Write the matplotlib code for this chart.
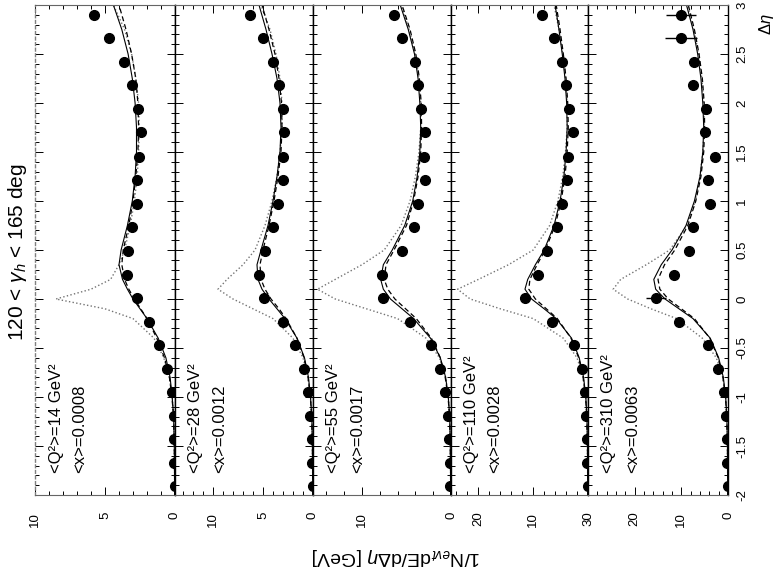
import matplotlib
matplotlib.use("Agg")
import matplotlib.pyplot as plt
from matplotlib.ticker import MultipleLocator, FixedLocator, FormatStrFormatter

plt.rcParams['font.family'] = ['Liberation Sans', 'DejaVu Sans']
plt.rcParams['mathtext.fontset'] = 'custom'
plt.rcParams['mathtext.rm'] = 'Liberation Sans'
plt.rcParams['mathtext.it'] = 'Liberation Sans:italic'
plt.rcParams['axes.unicode_minus'] = False

# bins in delta-eta for the measured points
eta_pts = [2.90, 2.66, 2.42, 2.18, 1.94, 1.70, 1.45, 1.21, 0.97, 0.73, 0.49,
           0.25, 0.01, -0.23, -0.47, -0.71, -0.95, -1.19, -1.43, -1.67, -1.91]

# energy flow per Q2 bin
flow_q14 = [5.77, 4.72, 3.66, 3.10, 2.61, 2.46, 2.54, 2.68, 2.75, 3.10, 3.38,
            3.45, 2.68, 1.83, 1.13, 0.56, 0.21, 0.10, 0.06, 0.04, 0.03]
flow_q28 = [6.3, 5.0, 4.0, 3.4, 3.0, 2.9, 3.0, 3.0, 3.5, 4.0, 4.8,
            5.4, 4.9, 3.0, 1.8, 0.9, 0.5, 0.3, 0.15, 0.08, 0.05]
flow_q55 = [6.4, 5.5, 4.0, 3.7, 3.4, 2.9, 3.0, 2.9, 3.7, 4.2, 5.5,
            7.8, 7.6, 4.6, 2.2, 1.2, 0.7, 0.35, 0.2, 0.1, 0.06]
flow_q110 = [8.4, 6.2, 4.7, 4.0, 3.5, 2.7, 3.6, 3.8, 4.7, 5.6, 7.4,
             9.1, 11.5, 6.5, 2.5, 1.1, 0.5, 0.3, 0.2, 0.1, 0.08]
flow_q310 = [10.0, 10.0, 7.2, 7.4, 4.8, 5.0, 2.8, 4.3, 3.9, 7.4, 8.3,
             11.5, 15.4, 10.4, 4.3, 2.2, 0.9, 0.5, 0.3, 0.2, 0.1]

err_q14 = [0.15, 0.12, 0.12, 0.10, 0.10, 0.10, 0.10, 0.10, 0.10, 0.10, 0.12,
           0.12, 0.12, 0.10, 0.08, 0.06, 0.05, 0.04, 0.03, 0.03, 0.03]
err_q28 = [0.25, 0.2, 0.15, 0.15, 0.12, 0.12, 0.12, 0.12, 0.15, 0.15, 0.2,
           0.25, 0.25, 0.15, 0.1, 0.08, 0.06, 0.05, 0.04, 0.03, 0.03]
err_q55 = [0.3, 0.25, 0.2, 0.2, 0.2, 0.2, 0.2, 0.2, 0.2, 0.25, 0.3,
           0.4, 0.4, 0.3, 0.15, 0.1, 0.08, 0.06, 0.05, 0.04, 0.04]
err_q110 = [0.6, 0.5, 0.4, 0.4, 0.4, 0.4, 0.4, 0.4, 0.4, 0.5, 0.6,
            0.8, 1.0, 0.6, 0.3, 0.2, 0.15, 0.1, 0.08, 0.06, 0.05]
err_q310 = [3.2, 3.4, 0.8, 0.7, 0.5, 0.5, 0.5, 0.5, 0.5, 0.6, 0.7,
            1.0, 2.2, 0.9, 0.5, 0.3, 0.2, 0.15, 0.1, 0.1, 0.1]

# model curves
eta_grid = [-2.0, -1.5, -1.2, -1.0, -0.8, -0.6, -0.4, -0.2, -0.1, 0.0, 0.1, 0.2,
            0.35, 0.5, 0.75, 1.0, 1.25, 1.5, 1.75, 2.0, 2.25, 2.5, 2.75, 3.0]

solid_q14 = [0.02, 0.05, 0.1, 0.2, 0.35, 0.65, 1.2, 2.0, 2.5, 3.0, 3.4, 3.75,
             4.0, 3.85, 3.4, 3.05, 2.85, 2.75, 2.75, 2.85, 3.05, 3.35, 3.8, 4.4]
dash_q14 = [0.02, 0.05, 0.1, 0.22, 0.4, 0.75, 1.3, 2.0, 2.45, 2.9, 3.3, 3.6,
            3.8, 3.7, 3.3, 3.0, 2.8, 2.65, 2.6, 2.65, 2.8, 3.1, 3.5, 4.0]
dot_q14 = [0.02, 0.05, 0.1, 0.2, 0.4, 0.8, 1.5, 3.0, 5.0, 8.5, 6.0, 4.6,
           4.0, 3.6, 3.2, 2.9, 2.7, 2.6, 2.55, 2.6, 2.8, 3.1, 3.6, 4.4]

solid_q28 = [0.02, 0.06, 0.12, 0.25, 0.45, 0.85, 1.6, 2.8, 3.6, 4.4, 5.1, 5.5,
             5.6, 5.2, 4.5, 4.0, 3.6, 3.3, 3.2, 3.3, 3.6, 4.1, 4.7, 5.4]
dash_q28 = [0.02, 0.06, 0.13, 0.27, 0.5, 0.9, 1.6, 2.7, 3.4, 4.2, 4.8, 5.2,
            5.3, 5.0, 4.4, 3.9, 3.5, 3.2, 3.1, 3.15, 3.4, 3.8, 4.4, 5.1]
dot_q28 = [0.02, 0.06, 0.12, 0.25, 0.5, 1.0, 2.0, 4.0, 6.0, 8.0, 9.5, 8.6,
           7.0, 5.8, 4.8, 4.1, 3.6, 3.3, 3.1, 3.1, 3.3, 3.7, 4.3, 5.2]

solid_q55 = [0.03, 0.08, 0.15, 0.3, 0.6, 1.2, 2.3, 4.2, 5.5, 6.8, 7.6, 7.9,
             7.6, 6.6, 5.2, 4.3, 3.8, 3.5, 3.4, 3.5, 3.7, 4.1, 4.8, 5.7]
dash_q55 = [0.03, 0.08, 0.16, 0.33, 0.65, 1.2, 2.2, 3.9, 5.1, 6.3, 7.1, 7.5,
            7.3, 6.4, 5.0, 4.2, 3.7, 3.4, 3.3, 3.35, 3.55, 3.95, 4.6, 5.5]
dot_q55 = [0.03, 0.08, 0.15, 0.3, 0.6, 1.3, 2.8, 6.0, 9.5, 13.0, 15.0, 13.0,
           10.0, 7.5, 5.6, 4.6, 4.0, 3.6, 3.4, 3.4, 3.6, 4.0, 4.7, 5.6]

solid_q110 = [0.04, 0.1, 0.2, 0.4, 0.8, 1.6, 3.0, 5.8, 8.0, 10.3, 11.5, 11.0,
              9.6, 8.0, 6.2, 5.1, 4.4, 4.0, 3.8, 3.9, 4.2, 4.7, 5.3, 6.0]
dash_q110 = [0.04, 0.1, 0.22, 0.45, 0.9, 1.7, 3.1, 5.6, 7.6, 9.6, 10.8, 10.6,
             9.3, 7.8, 6.0, 4.9, 4.2, 3.8, 3.6, 3.7, 4.0, 4.5, 5.1, 5.8]
dot_q110 = [0.04, 0.1, 0.2, 0.4, 0.9, 2.0, 4.5, 10.0, 16.0, 21.5, 23.8, 20.0,
            14.5, 10.0, 7.0, 5.5, 4.6, 4.1, 3.8, 3.8, 4.1, 4.6, 5.3, 6.2]

solid_q310 = [0.05, 0.12, 0.25, 0.5, 1.0, 2.0, 3.8, 7.5, 10.5, 13.5, 15.5, 15.9,
              14.3, 12.0, 9.0, 7.2, 6.0, 5.4, 5.2, 5.4, 5.8, 6.5, 7.5, 8.9]
dash_q310 = [0.05, 0.12, 0.27, 0.55, 1.1, 2.1, 3.9, 7.2, 10.0, 12.8, 14.6, 15.0,
             13.6, 11.4, 8.6, 6.9, 5.8, 5.2, 5.0, 5.1, 5.5, 6.2, 7.2, 8.5]
dot_q310 = [0.05, 0.12, 0.25, 0.5, 1.1, 2.5, 5.5, 11.0, 16.5, 21.5, 24.6, 23.0,
            17.5, 12.5, 8.8, 7.0, 6.0, 5.4, 5.1, 5.2, 5.6, 6.3, 7.3, 8.7]

q2_labels = ['<Q²>=14 GeV²', '<Q²>=28 GeV²', '<Q²>=55 GeV²',
             '<Q²>=110 GeV²', '<Q²>=310 GeV²']
x_labels = ['<x>=0.0008', '<x>=0.0012', '<x>=0.0017', '<x>=0.0028', '<x>=0.0063']

flows = [flow_q14, flow_q28, flow_q55, flow_q110, flow_q310]
errs = [err_q14, err_q28, err_q55, err_q110, err_q310]
solids = [solid_q14, solid_q28, solid_q55, solid_q110, solid_q310]
dashes = [dash_q14, dash_q28, dash_q55, dash_q110, dash_q310]
dots = [dot_q14, dot_q28, dot_q55, dot_q110, dot_q310]

# axis range, major/minor tick step and labelled ticks of each panel
flow_max = [10.0, 13.8, 15.5, 25.0, 30.0]
major_step = [5, 5, 10, 10, 10]
minor_step = [1, 1, 2, 2, 2]
tick_vals = [[0, 5, 10], [0, 5, 10], [0, 10], [10, 20], [0, 10, 20, 30]]

W, H = 776, 579
fig = plt.figure(figsize=(W / 100, H / 100), dpi=100)

# the whole plot is laid out turned on its side: panels side by side,
# delta-eta running upwards and the energy flow growing to the left
left_px = [35, 175, 313, 451, 588]
right_px = [175, 313, 451, 588, 728]
top_px, bot_px = 5, 495

for i in range(5):
    ax = fig.add_axes([left_px[i] / W, 1 - bot_px / H,
                       (right_px[i] - left_px[i]) / W, (bot_px - top_px) / H])
    ax.set_xlim(flow_max[i], 0)
    ax.set_ylim(-2, 3)

    ax.plot(dots[i], eta_grid, ':', color='0.45', lw=1.0)
    ax.plot(dashes[i], eta_grid, '--', color='black', lw=0.9, dashes=(4, 2.5))
    ax.plot(solids[i], eta_grid, '-', color='black', lw=0.8)
    ax.errorbar(flows[i], eta_pts, xerr=errs[i], yerr=0.05, fmt='o',
                color='black', ms=7, elinewidth=1.0, capsize=0)

    major = list(range(0, int(flow_max[i]) + 1, major_step[i]))
    ax.xaxis.set_major_locator(FixedLocator(major))
    ax.xaxis.set_minor_locator(MultipleLocator(minor_step[i]))
    ax.set_xticklabels([str(v) if v in tick_vals[i] else '' for v in major])
    ax.yaxis.set_major_locator(MultipleLocator(0.5))
    ax.yaxis.set_minor_locator(MultipleLocator(0.1))
    ax.yaxis.set_major_formatter(FormatStrFormatter('%g'))

    ax.tick_params(axis='both', which='both', direction='in',
                   top=True, bottom=True, left=True, right=True,
                   labelleft=False, labelright=(i == 4), width=0.7)
    ax.tick_params(which='major', length=6)
    ax.tick_params(which='minor', length=3)
    ax.tick_params(axis='x', labelrotation=90, labelsize=9.5, pad=12)
    ax.tick_params(axis='y', labelrotation=90, labelsize=9.5, pad=6)
    for lab in ax.get_yticklabels():
        lab.set_verticalalignment('center')

    for s in ['top', 'bottom']:
        ax.spines[s].set_color('0.4')
        ax.spines[s].set_linewidth(0.8)
    ax.spines['right'].set_linewidth(1.0)
    ax.spines['left'].set_linewidth(1.0)
    if i == 0:
        ax.spines['left'].set_color('0.5')
        ax.spines['left'].set_linestyle((0, (2, 2)))

    ax.text(0.15, 0.045, q2_labels[i], transform=ax.transAxes, rotation=90,
            ha='center', va='bottom', fontsize=12)
    ax.text(0.32, 0.045, x_labels[i], transform=ax.transAxes, rotation=90,
            ha='center', va='bottom', fontsize=12)

fig.text(18 / W, 1 - 252 / H, r'120 < $\gamma_h$ < 165 deg', rotation=90,
         ha='center', va='center', fontsize=15)
fig.text(396 / W, 1 - 557 / H, r'1/N$_{evt}$dE/d$\Delta\eta$ [GeV]', rotation=180,
         ha='center', va='center', fontsize=14)
fig.text(766 / W, 1 - 24 / H, r'$\Delta\eta$', rotation=90,
         ha='center', va='center', fontsize=12)

fig.savefig('out.png', dpi=100)
